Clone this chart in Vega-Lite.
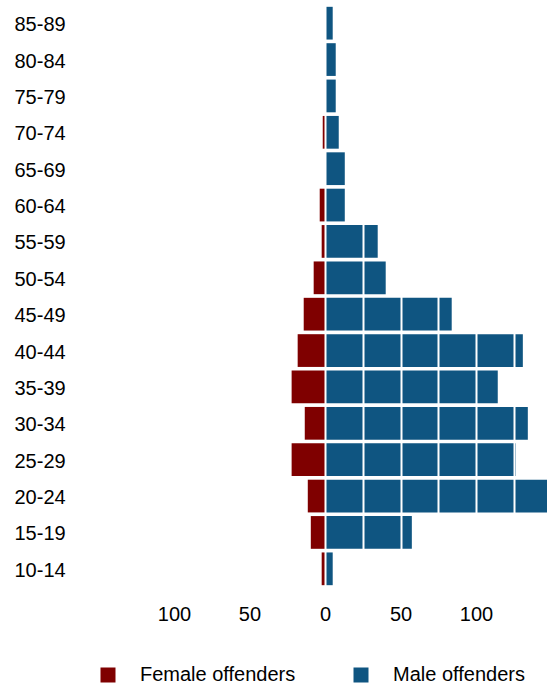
{
  "$schema": "https://vega.github.io/schema/vega-lite/v6.json",
  "width": 444,
  "height": 582,
  "autosize": {"type": "none"},
  "padding": {"left": 103, "top": 5, "right": 2, "bottom": 98},
  "config": {
    "view": {"stroke": null},
    "font": "Liberation Sans",
    "text": {"font": "Liberation Sans"}
  },
  "data": {
    "values": [
      {"age": "85-89", "sex": "Female offenders", "count": 0},
      {"age": "80-84", "sex": "Female offenders", "count": 0},
      {"age": "75-79", "sex": "Female offenders", "count": 0},
      {"age": "70-74", "sex": "Female offenders", "count": 1.5},
      {"age": "65-69", "sex": "Female offenders", "count": 0},
      {"age": "60-64", "sex": "Female offenders", "count": 3.5},
      {"age": "55-59", "sex": "Female offenders", "count": 2.2},
      {"age": "50-54", "sex": "Female offenders", "count": 7.5},
      {"age": "45-49", "sex": "Female offenders", "count": 14.1},
      {"age": "40-44", "sex": "Female offenders", "count": 18.1},
      {"age": "35-39", "sex": "Female offenders", "count": 22.1},
      {"age": "30-34", "sex": "Female offenders", "count": 13.4},
      {"age": "25-29", "sex": "Female offenders", "count": 22.1},
      {"age": "20-24", "sex": "Female offenders", "count": 11.4},
      {"age": "15-19", "sex": "Female offenders", "count": 9.4},
      {"age": "10-14", "sex": "Female offenders", "count": 2.2},
      {"age": "85-89", "sex": "Male offenders", "count": 5.1},
      {"age": "80-84", "sex": "Male offenders", "count": 7.1},
      {"age": "75-79", "sex": "Male offenders", "count": 7.1},
      {"age": "70-74", "sex": "Male offenders", "count": 9.1},
      {"age": "65-69", "sex": "Male offenders", "count": 13.1},
      {"age": "60-64", "sex": "Male offenders", "count": 13.1},
      {"age": "55-59", "sex": "Male offenders", "count": 34.9},
      {"age": "50-54", "sex": "Male offenders", "count": 40.2},
      {"age": "45-49", "sex": "Male offenders", "count": 83.9},
      {"age": "40-44", "sex": "Male offenders", "count": 131},
      {"age": "35-39", "sex": "Male offenders", "count": 114.4},
      {"age": "30-34", "sex": "Male offenders", "count": 134.3},
      {"age": "25-29", "sex": "Male offenders", "count": 126.3},
      {"age": "20-24", "sex": "Male offenders", "count": 147},
      {"age": "15-19", "sex": "Male offenders", "count": 57.5},
      {"age": "10-14", "sex": "Male offenders", "count": 5.1}
    ]
  },
  "transform": [
    {"calculate": "datum.sex === 'Female offenders' ? -datum.count : datum.count", "as": "signed"}
  ],
  "mark": {"type": "bar", "clip": true},
  "encoding": {
    "y": {
      "field": "age",
      "type": "nominal",
      "sort": ["85-89","80-84","75-79","70-74","65-69","60-64","55-59","50-54","45-49","40-44","35-39","30-34","25-29","20-24","15-19","10-14"],
      "scale": {"paddingInner": 0.1, "paddingOuter": 0.05},
      "axis": {
        "title": null,
        "domain": false,
        "ticks": false,
        "tickSize": 0,
        "labelAlign": "left",
        "labelPadding": 89,
        "labelOffset": 2,
        "labelFontSize": 20,
        "labelColor": "#000",
        "labelFont": "Liberation Sans",
        "grid": false
      }
    },
    "x": {
      "field": "signed",
      "type": "quantitative",
      "stack": null,
      "scale": {"domain": [-147, 147], "nice": false},
      "axis": {
        "title": null,
        "domain": false,
        "ticks": false,
        "tickSize": 0,
        "values": [-125, -100, -75, -50, -25, 0, 25, 50, 75, 100, 125],
        "labelExpr": "datum.value % 50 === 0 ? format(abs(datum.value), 'd') : ''",
        "labelPadding": 17,
        "labelFontSize": 20,
        "labelColor": "#000",
        "labelFont": "Liberation Sans",
        "grid": true,
        "gridColor": "#ffffff",
        "gridWidth": 2,
        "gridOpacity": 1,
        "zindex": 1
      }
    },
    "color": {
      "field": "sex",
      "type": "nominal",
      "scale": {"domain": ["Female offenders", "Male offenders"], "range": ["#7f0000", "#0f5581"]},
      "legend": {
        "title": null,
        "orient": "none",
        "direction": "horizontal",
        "legendX": -5,
        "legendY": 660,
        "symbolType": "square",
        "symbolSize": 225,
        "symbolOpacity": 1,
        "symbolStrokeWidth": 0,
        "labelFontSize": 20,
        "labelFont": "Liberation Sans",
        "labelColor": "#000",
        "labelOffset": 22,
        "columnPadding": 55
      }
    }
  }
}
